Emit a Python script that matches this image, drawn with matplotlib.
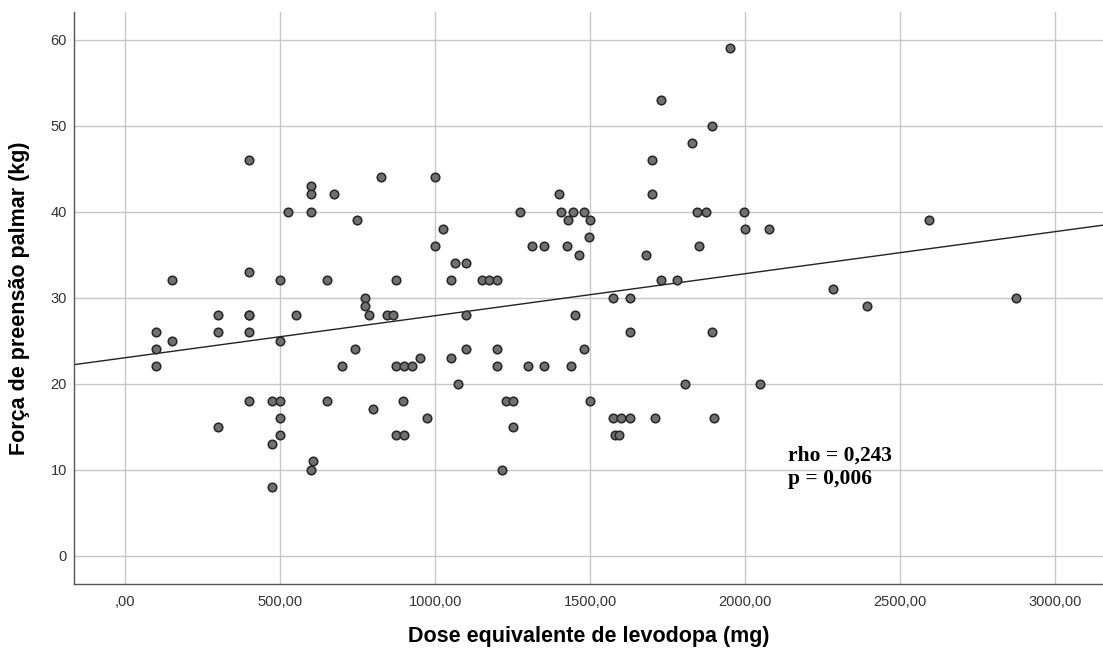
import numpy as np
import matplotlib
matplotlib.use("Agg")
import matplotlib.pyplot as plt
from matplotlib.ticker import FuncFormatter

plt.rcParams['font.family'] = ['Liberation Sans', 'DejaVu Sans']

# levodopa equivalent dose (mg) and handgrip strength (kg)
dose = [400, 826, 600, 600, 675, 527, 600, 749,
        150, 400, 500, 650, 874,
        774, 774, 787, 300, 400, 400, 550, 845, 865,
        100, 300, 400, 150, 500, 100, 742, 100, 700,
        400, 475, 500, 650, 800, 300, 500, 500, 475,
        605, 600, 475,
        1000, 1400, 1700, 1700, 1275, 1405, 1445, 1480, 1430, 1500,
        1025, 1497, 1000, 1313, 1350, 1425, 1465, 1680, 1065, 1100,
        1050, 1150, 1175, 1200, 1728, 1575, 1630, 1100, 1450, 1630,
        874, 900, 926, 950, 1050, 1100, 1200, 1200, 1300, 1350,
        1438, 1480, 1075, 898, 1230, 1250, 1500, 975, 874, 900,
        1250, 1215, 1575, 1600, 1630, 1711, 1580, 1595,
        1950, 1730, 1895, 1828, 1846, 1874, 1996, 2000, 2078, 1850,
        1780, 2285, 2395, 1895, 1805, 2048, 1900, 2595, 2875]
grip = [46, 44, 43, 42, 42, 40, 40, 39,
        32, 33, 32, 32, 32,
        30, 29, 28, 28, 28, 28, 28, 28, 28,
        26, 26, 26, 25, 25, 24, 24, 22, 22,
        18, 18, 18, 18, 17, 15, 16, 14, 13,
        11, 10, 8,
        44, 42, 46, 42, 40, 40, 40, 40, 39, 39,
        38, 37, 36, 36, 36, 36, 35, 35, 34, 34,
        32, 32, 32, 32, 32, 30, 30, 28, 28, 26,
        22, 22, 22, 23, 23, 24, 24, 22, 22, 22,
        22, 24, 20, 18, 18, 18, 18, 16, 14, 14,
        15, 10, 16, 16, 16, 16, 14, 14,
        59, 53, 50, 48, 40, 40, 40, 38, 38, 36,
        32, 31, 29, 26, 20, 20, 16, 39, 30]

x_ticks = [0, 500, 1000, 1500, 2000, 2500, 3000]
y_ticks = [0, 10, 20, 30, 40, 50, 60]
stats_text = "rho = 0,243\np = 0,006"

x = np.array(dose, dtype=float)
y = np.array(grip, dtype=float)

fig = plt.figure(figsize=(11.03, 6.51), dpi=100)
ax = fig.add_axes([0.0671, 0.103, 0.9329, 0.8785])

xmin, xmax = -165, 3155
ax.set_xlim(xmin, xmax)
ax.set_ylim(-3.3, 63.2)
ax.set_xticks(x_ticks)
ax.set_yticks(y_ticks)
ax.xaxis.set_major_formatter(FuncFormatter(
    lambda v, p: ',00' if v == 0 else f'{v:.2f}'.replace('.', ',')))

ax.grid(True, color='#c8c8c8', linewidth=1.0)
ax.set_axisbelow(True)
for s in ['top', 'right']:
    ax.spines[s].set_visible(False)
for s in ['left', 'bottom']:
    ax.spines[s].set_color('#555555')
    ax.spines[s].set_linewidth(1.0)
ax.tick_params(length=0, labelsize=10.5, labelcolor='#333333')
ax.tick_params(axis='x', pad=8)
ax.tick_params(axis='y', pad=5)

# linear fit line
slope, icpt = np.polyfit(x, y, 1)
xl = np.array([xmin, xmax])
ax.plot(xl, icpt + slope * xl, color='#222222', linewidth=1.0, zorder=2)

ax.scatter(x, y, s=38, c='#707070', edgecolors='#262626', linewidths=1.1, zorder=3)

# correlation note, one line at a time so the baselines sit right
for i, line in enumerate(stats_text.split('\n')):
    ax.text(2140, 11.0 - i * 2.7, line, fontsize=15.5, fontweight='bold',
            family=['Liberation Serif', 'DejaVu Serif'], va='baseline', ha='left')

ax.set_xlabel('Dose equivalente de levodopa (mg)', fontsize=15.5, fontweight='bold', labelpad=12)
ax.set_ylabel('Força de preensão palmar (kg)', fontsize=15.5, fontweight='bold', labelpad=15)

fig.savefig('out.png', dpi=100)
